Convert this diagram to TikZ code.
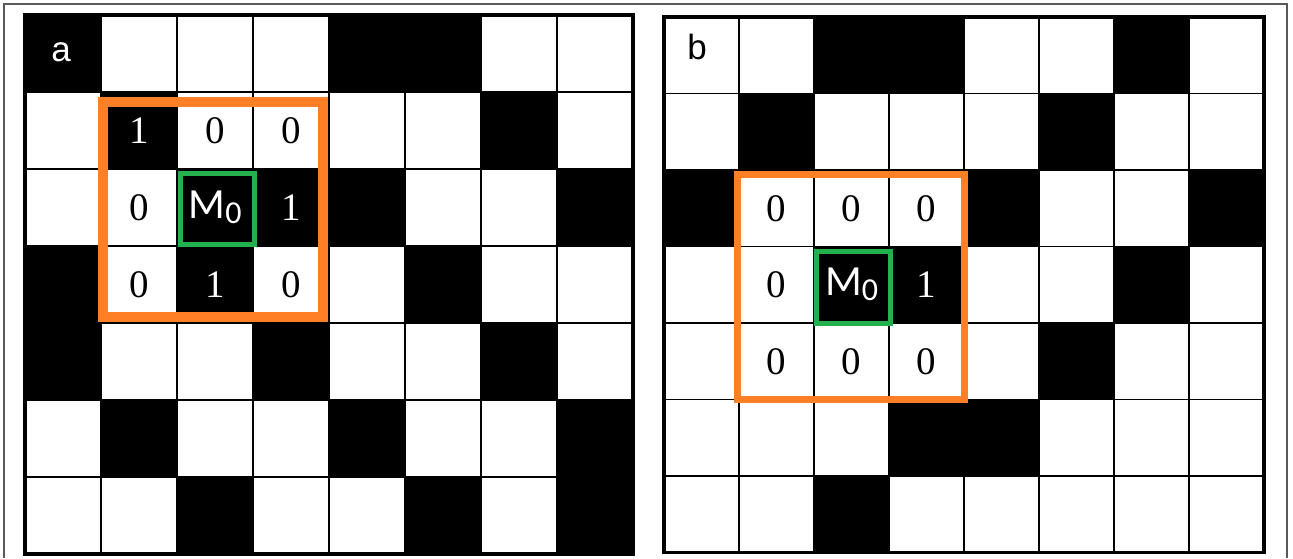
\documentclass[tikz,border=0pt]{standalone}
\usepackage{fontspec}
\newfontfamily\labelfont{Liberation Sans}
\newfontfamily\mzerofont{Carlito}
\newfontfamily\digitfont{Liberation Serif}
\definecolor{boxorange}{RGB}{255,127,39}
\definecolor{boxgreen}{RGB}{34,177,76}

\begin{document}
\begin{tikzpicture}[x=1pt, y=-1pt]
  % Define styles
  \tikzstyle{cellA} = [rectangle, draw, line width=1.5pt, minimum width=76pt, minimum height=77pt, inner sep=0pt, outer sep=0pt]
  \tikzstyle{cellB} = [rectangle, draw, line width=1.5pt, minimum width=75pt, minimum height=76.5pt, inner sep=0pt, outer sep=0pt]
  \tikzstyle{digit} = [font=\digitfont\fontsize{39}{39}\selectfont, inner sep=0pt]
  \tikzstyle{centre} = [font=\mzerofont\fontsize{43}{43}\selectfont, text=white, inner sep=0pt]
  \tikzstyle{panel} = [font=\labelfont\fontsize{35}{35}\selectfont, inner sep=0pt, anchor=base]
  \tikzstyle{window} = [draw=boxorange]
  \tikzstyle{pixel} = [draw=boxgreen]

  \useasboundingbox (0,0) rectangle (1293,558);

  % Frame
  \draw[black!65, line width=1.2pt] (4,558) -- (4,4) -- (1287,4) -- (1287,558);

  % Grid a
  \foreach \r in {0,...,6}
    \foreach \c in {0,...,7}
      \node[cellA] (a\c\r) at (63+\c*76, 53.5+\r*77) {};
  \foreach \c/\r in {0/0,4/0,5/0,1/1,6/1,2/2,3/2,4/2,7/2,0/3,2/3,5/3,0/4,3/4,6/4,1/5,4/5,7/5,2/6,5/6,7/6}
    \fill (a\c\r.north west) rectangle (a\c\r.south east);
  \draw[line width=3.5pt] (a00.north west) rectangle (a76.south east);

  % Grid b
  \foreach \r in {0,...,6}
    \foreach \c in {0,...,7}
      \node[cellB] (b\c\r) at (701.5+\c*75, 55.25+\r*76.5) {};
  \foreach \c/\r in {2/0,3/0,6/0,1/1,5/1,0/2,4/2,7/2,2/3,3/3,6/3,5/4,3/5,4/5,2/6}
    \fill (b\c\r.north west) rectangle (b\c\r.south east);
  \draw[line width=3.5pt] (b00.north west) rectangle (b76.south east);

  % Panel labels
  \node[panel, text=white] (labela) at (61,61) {a};
  \node[panel] (labelb) at (697,59) {b};

  % Neighbourhood values a
  \node[digit, text=white] (na11) at (a11) {1};
  \node[digit] (na21) at (a21) {0};
  \node[digit] (na31) at (a31) {0};
  \node[digit] (na12) at (a12) {0};
  \node[centre] (na22) at (a22) {M\raisebox{-5pt}{\fontsize{32}{32}\selectfont 0}};
  \node[digit, text=white] (na32) at (a32) {1};
  \node[digit] (na13) at (a13) {0};
  \node[digit, text=white] (na23) at (a23) {1};
  \node[digit] (na33) at (a33) {0};

  % Neighbourhood values b
  \node[digit] (nb12) at (b12) {0};
  \node[digit] (nb22) at (b22) {0};
  \node[digit] (nb32) at (b32) {0};
  \node[digit] (nb13) at (b13) {0};
  \node[centre] (nb23) at (b23) {M\raisebox{-5pt}{\fontsize{32}{32}\selectfont 0}};
  \node[digit, text=white] (nb33) at (b33) {1};
  \node[digit] (nb14) at (b14) {0};
  \node[digit] (nb24) at (b24) {0};
  \node[digit] (nb34) at (b34) {0};

  % Windows
  \draw[window, line width=10pt] ([shift={(2,10)}]a11.north west) rectangle ([shift={(-6,-6)}]a33.south east);
  \draw[pixel, line width=5pt] ([shift={(3,4)}]a22.north west) rectangle ([shift={(1,-2)}]a22.south east);
  \draw[window, line width=7pt] ([shift={(-2,4)}]b12.north west) rectangle (b34.south east);
  \draw[pixel, line width=5pt] ([shift={(2,5)}]b23.north west) rectangle ([shift={(1,0)}]b23.south east);
\end{tikzpicture}
\end{document}
